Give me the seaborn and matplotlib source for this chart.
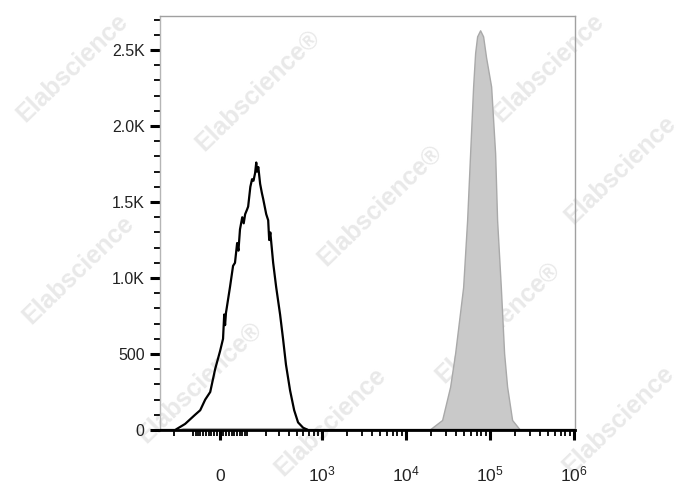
import numpy as np
import matplotlib
matplotlib.use('Agg')
import matplotlib.pyplot as plt
import seaborn as sns
from matplotlib.ticker import FixedLocator, FixedFormatter

# control sample (black outline), fluorescence intensity vs. event count
ctrl_x = [-310, -195, -138, -92, -71, -52, -34, -17, 0, 10, 14, 17, 20, 34, 45, 52, 60, 65,
          71, 80, 86, 92, 100, 105, 115, 123, 130, 138, 144, 148, 155, 165, 175, 183, 202,
          215, 222, 230, 251, 275, 309, 337, 367, 413, 464, 518, 597, 686, 1.04e6]
ctrl_count = [0, 0, 40, 100, 130, 200, 250, 400, 520, 600, 760, 690, 770, 940, 1080, 1100,
              1230, 1180, 1320, 1400, 1360, 1420, 1450, 1470, 1600, 1650, 1640, 1690, 1760,
              1700, 1730, 1620, 1560, 1520, 1420, 1380, 1250, 1300, 1100, 940, 760, 600, 430,
              260, 130, 50, 15, 0, 0]

# stained sample (grey filled)
stain_x = [-180, -150, 650, 700, 16180, 19600, 27250, 33930, 38910, 48460, 54040, 58680,
           63720, 67310, 71130, 77200, 83800, 91000, 104400, 116500, 123000, 136200, 149000,
           161800, 185600, 231100]
stain_count = [0, 12, 12, 0, 0, 5, 66, 285, 505, 940, 1380, 1820, 2260, 2480, 2590, 2630,
               2590, 2450, 2260, 1820, 1380, 940, 505, 285, 66, 0]

x_major = [0, 1e3, 1e4, 1e5, 1e6]
x_labels = ['0', '$10^{3}$', '$10^{4}$', '$10^{5}$', '$10^{6}$']
y_major = [0, 500, 1000, 1500, 2000, 2500]
y_labels = ['0', '500', '1.0K', '1.5K', '2.0K', '2.5K']

watermarks = [(72, 68, 'Elabscience'), (258, 90, 'Elabscience®'),
              (548, 68, 'Elabscience'), (380, 205, 'Elabscience®'), (620, 170, 'Elabscience'),
              (78, 270, 'Elabscience'), (498, 322, 'Elabscience®'), (200, 382, 'Elabscience®'),
              (618, 420, 'Elabscience'), (330, 422, 'Elabscience')]


def fwd(x):
    return np.arcsinh(np.asarray(x, dtype=float) / 124.0) / np.log(10)


def inv(y):
    return 124.0 * np.sinh(np.asarray(y, dtype=float) * np.log(10))


sns.set_style('white')
plt.rcParams['font.family'] = ['Liberation Sans', 'DejaVu Sans']
plt.rcParams['mathtext.fontset'] = 'custom'
plt.rcParams['mathtext.rm'] = 'Liberation Sans'
plt.rcParams['mathtext.it'] = 'Liberation Sans:italic'

fig = plt.figure(figsize=(6.88, 4.90), dpi=100)
ax = fig.add_axes([160 / 688, 1 - 430 / 490, 415 / 688, 414 / 490])
ax.patch.set_alpha(0)

for px, py, txt in watermarks:
    fig.text(px / 688, 1 - py / 490, txt, rotation=44, rotation_mode='anchor',
             ha='center', va='center', fontsize=18, fontweight='bold',
             color='#e9e9e9', zorder=-1)

ax.set_xscale('function', functions=(fwd, inv))

ax.fill_between(stain_x, stain_count, color='#c9c9c9', edgecolor='#a9a9a9', linewidth=1, zorder=2)
sns.lineplot(x=ctrl_x, y=ctrl_count, ax=ax, color='black', linewidth=1.6,
             estimator=None, sort=False, zorder=3)

ax.set_xlim(-310, 1.04e6)
ax.set_ylim(0, 2724)

# ticks
x_minor = ([-200, -100] + list(range(-90, 0, 10)) + list(range(10, 100, 10))
           + list(range(100, 1000, 100)))
for dec in [1e3, 1e4, 1e5]:
    x_minor += [k * dec for k in range(2, 10)]
ax.xaxis.set_major_locator(FixedLocator(x_major))
ax.xaxis.set_major_formatter(FixedFormatter(x_labels))
ax.xaxis.set_minor_locator(FixedLocator(x_minor))
ax.yaxis.set_major_locator(FixedLocator(y_major))
ax.yaxis.set_major_formatter(FixedFormatter(y_labels))
ax.yaxis.set_minor_locator(FixedLocator(list(range(100, 2800, 100))))

ax.tick_params(bottom=True, left=True, which='both')
ax.tick_params(axis='both', which='major', direction='out', length=7, width=2.2,
               color='black', labelcolor='#222222')
ax.tick_params(axis='y', which='major', labelsize=11.5, pad=4)
ax.tick_params(axis='x', which='major', labelsize=12.5, pad=30)
ax.tick_params(axis='both', which='minor', direction='out', length=4, width=1.3, color='black')
for lbl in ax.get_xticklabels():
    lbl.set_verticalalignment('baseline')

for side in ['top', 'right']:
    ax.spines[side].set_color('#a0a0a0')
    ax.spines[side].set_linewidth(1)
ax.spines['left'].set_color('#b5b5b5')
ax.spines['left'].set_linewidth(1)
ax.spines['bottom'].set_color('black')
ax.spines['bottom'].set_linewidth(2)

fig.savefig('out.png', dpi=100)
